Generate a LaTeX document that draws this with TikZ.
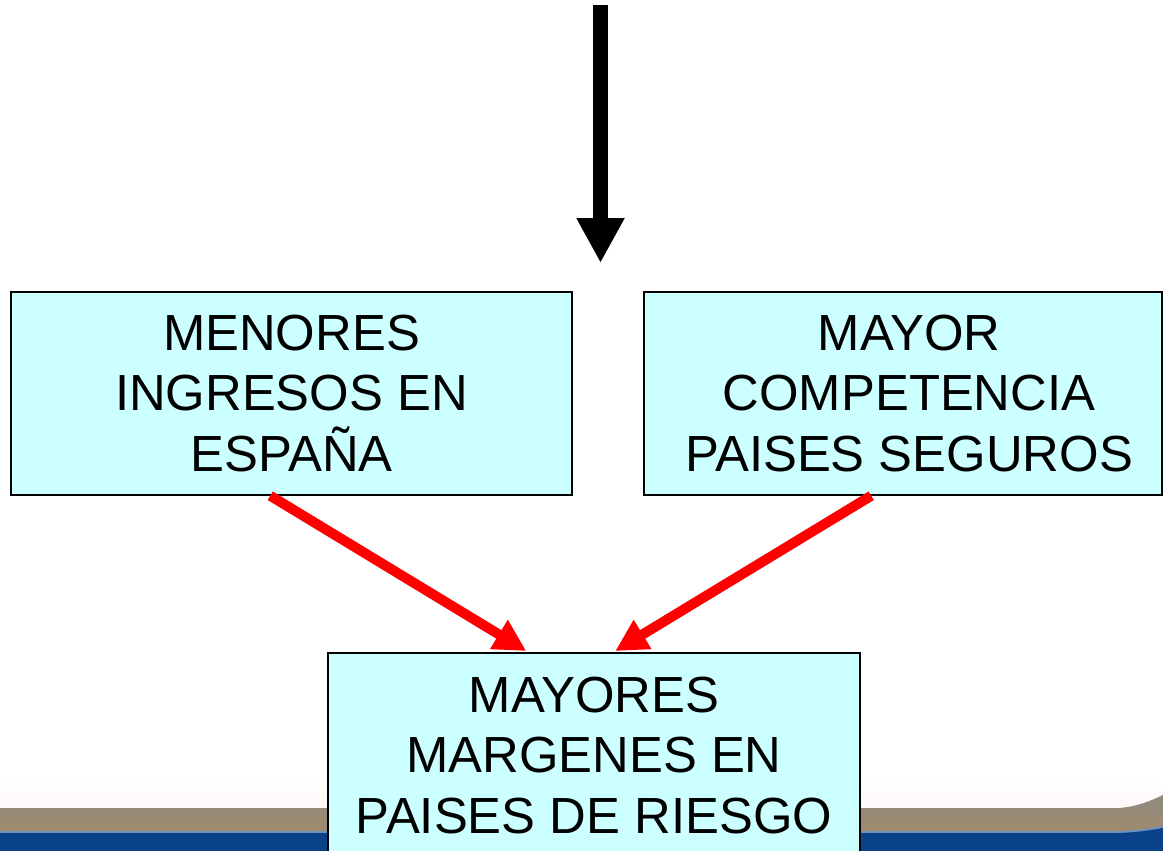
\documentclass[tikz,border=0pt]{standalone}
\usepackage{fontspec}
\setmainfont{Liberation Sans}
\usetikzlibrary{arrows.meta}
\definecolor{boxfill}{HTML}{CCFFFF}
\definecolor{bandtop}{HTML}{8E8B81}
\definecolor{bandbot}{HTML}{A08B6C}
\definecolor{bandblue}{HTML}{0A4289}
\definecolor{bandline}{HTML}{7090C0}
\definecolor{pinkwhite}{HTML}{FFF7F7}
\begin{document}
\begin{tikzpicture}[x=1pt,y=-1pt,
  box/.style={draw=black,line width=1.5pt,fill=boxfill,align=center,inner sep=0pt,
    font=\fontsize{50.8}{60.5}\selectfont},
  redarrow/.style={draw=red,line width=10pt,-{Triangle[length=32pt,width=32pt]}},
  blackarrow/.style={draw=black,line width=15pt,-{Triangle[length=45pt,width=45pt]}}]
\useasboundingbox (0,0) rectangle (1163,851);
\fill[white] (0,0) rectangle (1163,851);
% bottom band
\shade[top color=white,bottom color=pinkwhite] (0,780) rectangle (1163,808);
\shade[top color=bandtop,bottom color=bandbot]
  (0,808) -- (1120,808) .. controls (1140,806) and (1152,800) .. (1163,795) -- (1163,832) -- (0,832) -- cycle;
\fill[bandline] (0,831) -- (1120,831) .. controls (1140,830) and (1152,828) .. (1163,826) -- (1163,829) .. controls (1152,831) and (1140,833) .. (1120,834) -- (0,834) -- cycle;
\fill[bandblue] (0,833) -- (1120,833) .. controls (1140,832) and (1152,830) .. (1163,828) -- (1163,851) -- (0,851) -- cycle;
% boxes
\node[box,minimum width=561pt,minimum height=203pt] (lb) at (291.5,393.5)
  {MENORES\\INGRESOS EN\\ESPAÑA};
\node[box,minimum width=518pt,minimum height=203pt] (rb) at (903,393.5)
  {\hspace*{12pt}MAYOR\\\hspace*{12pt}COMPETENCIA\\\hspace*{12pt}PAISES SEGUROS};
\node[box,minimum width=532pt,minimum height=205pt,anchor=north] (bb) at (594,652)
  {MAYORES\\MARGENES EN\\PAISES DE RIESGO};
% black arrow
\coordinate (topstart) at (600.5,5);
\coordinate (topend) at (600.5,263);
\draw[blackarrow] (topstart) -- (topend);
% red arrows
\draw[redarrow] ([xshift=260pt]lb.south west) -- ([xshift=199pt,yshift=1pt]bb.north west);
\draw[redarrow] ([xshift=228pt]rb.south west) -- ([xshift=288pt,yshift=1pt]bb.north west);
\end{tikzpicture}
\end{document}
